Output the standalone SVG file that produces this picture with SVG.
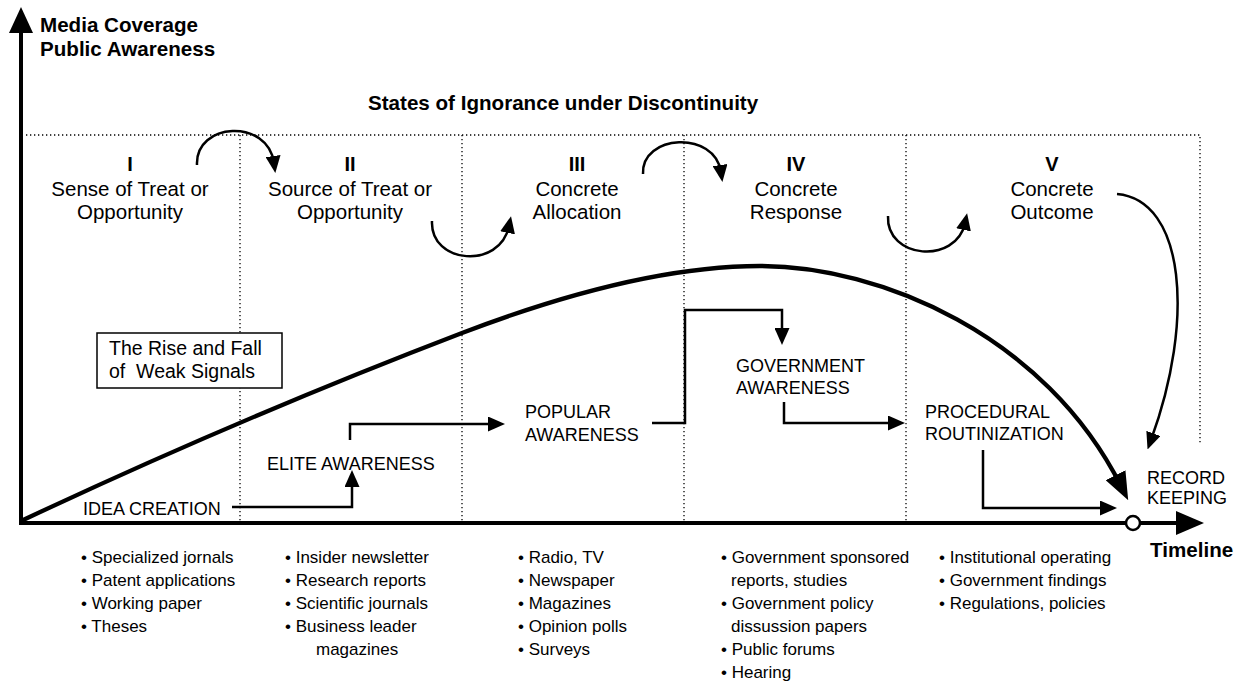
<svg xmlns="http://www.w3.org/2000/svg" width="1240" height="682" viewBox="0 0 1240 682">
<style>
text{font-family:"Liberation Sans",Arial,Helvetica,sans-serif;fill:#000}
.h{font-size:20.6px;font-weight:bold}
.st{font-size:20.5px;text-anchor:middle}
.nm{font-size:20px;font-weight:bold;text-anchor:middle}
.cap{font-size:18px}
.lst{font-size:17px}
.box{font-size:19.5px}
.dot{stroke:#000;stroke-width:1.3;stroke-dasharray:1.3 2.7;fill:none}
.c{stroke:#000;stroke-width:2.5;fill:none}
.ax{stroke:#000;stroke-width:4;fill:none}
</style>
<defs>
<marker id="ah" markerUnits="userSpaceOnUse" viewBox="0 0 17 15" markerWidth="17" markerHeight="15" refX="7" refY="7.5" orient="auto"><path d="M0,0 L17,7.5 L0,15 z" fill="#000"/></marker>
<marker id="big" markerUnits="userSpaceOnUse" viewBox="0 0 28 22" markerWidth="28" markerHeight="22" refX="12" refY="11" orient="auto"><path d="M0,0 L28,11 L0,22 z" fill="#000"/></marker>
</defs>

<g id="grid">
<path class="dot" d="M26,135 H1200 V443"/>
<path class="dot" d="M240,135 V521 M462,135 V521 M684,135 V521 M906,135 V521"/>
</g>

<g id="axes">
<path class="ax" d="M21,523 V30"/>
<path d="M21,7 L9,33 L33,33 z" fill="#000"/>
<path class="ax" d="M19,523 H1178"/>
<path d="M1204,523 L1176,511 L1176,535 z" fill="#000"/>
<circle cx="1133" cy="523" r="7" fill="#fff" stroke="#000" stroke-width="2.5"/>
<text class="h" x="40" y="32">Media Coverage</text>
<text class="h" x="40" y="56">Public Awareness</text>
<text class="h" x="1150" y="557">Timeline</text>
<text class="h" x="368" y="110">States of Ignorance under Discontinuity</text>
</g>

<g id="stage-I">
<text class="nm" x="130" y="171">I</text>
<text class="st" x="130" y="196">Sense of Treat or</text>
<text class="st" x="130" y="219">Opportunity</text>
</g>
<g id="stage-II">
<text class="nm" x="350" y="171">II</text>
<text class="st" x="350" y="196">Source of Treat or</text>
<text class="st" x="350" y="219">Opportunity</text>
</g>
<g id="stage-III">
<text class="nm" x="577" y="171">III</text>
<text class="st" x="577" y="196">Concrete</text>
<text class="st" x="577" y="219">Allocation</text>
</g>
<g id="stage-IV">
<text class="nm" x="796" y="171">IV</text>
<text class="st" x="796" y="196">Concrete</text>
<text class="st" x="796" y="219">Response</text>
</g>
<g id="stage-V">
<text class="nm" x="1052" y="171">V</text>
<text class="st" x="1052" y="196">Concrete</text>
<text class="st" x="1052" y="219">Outcome</text>
</g>

<g id="rise-fall-box">
<rect x="97" y="333" width="185" height="55" fill="#fff" stroke="#000" stroke-width="1.5"/>
<text class="box" x="109" y="355">The Rise and Fall</text>
<text class="box" x="109" y="378" xml:space="preserve">of  Weak Signals</text>
</g>

<g id="idea-creation"><text class="cap" x="83" y="515">IDEA CREATION</text></g>
<g id="elite-awareness"><text class="cap" x="267" y="470">ELITE AWARENESS</text></g>
<g id="popular-awareness"><text class="cap" x="525" y="418">POPULAR</text><text class="cap" x="525" y="441">AWARENESS</text></g>
<g id="government-awareness"><text class="cap" x="736" y="372">GOVERNMENT</text><text class="cap" x="736" y="394">AWARENESS</text></g>
<g id="procedural-routinization"><text class="cap" x="925" y="418">PROCEDURAL</text><text class="cap" x="925" y="440">ROUTINIZATION</text></g>
<g id="record-keeping"><text class="cap" x="1147" y="484">RECORD</text><text class="cap" x="1147" y="504">KEEPING</text></g>

<g id="connectors">
<path d="M21,521 C140,465 300,395 462,333 C580,288 680,266 760,266 C880,266 1045,335 1121,486" stroke="#000" stroke-width="4.3" fill="none" marker-end="url(#big)"/>
<path class="c" d="M197,165 C195,122 268,118 274,163" marker-end="url(#ah)"/>
<path class="c" d="M432,221 C430,264 500,270 509,226" marker-end="url(#ah)"/>
<path class="c" d="M643,174 C641,134 715,130 721,172" marker-end="url(#ah)"/>
<path class="c" d="M888,216 C886,259 956,265 965,223" marker-end="url(#ah)"/>
<path class="c" d="M1117,194 C1185,200 1195,320 1151,440" marker-end="url(#ah)"/>
<path class="c" d="M232,507 H352 V480" marker-end="url(#ah)"/>
<path class="c" d="M350,440 V424 H495" marker-end="url(#ah)"/>
<path class="c" d="M652,423 H685 V310 H782 V335" marker-end="url(#ah)"/>
<path class="c" d="M784,402 V423 H895" marker-end="url(#ah)"/>
<path class="c" d="M983,450 V508 H1107" marker-end="url(#ah)"/>
</g>

<g id="list-1">
<text class="lst" x="81" y="563">• Specialized jornals</text>
<text class="lst" x="81" y="586">• Patent applications</text>
<text class="lst" x="81" y="609">• Working paper</text>
<text class="lst" x="81" y="632">• Theses</text>
</g>
<g id="list-2">
<text class="lst" x="285" y="563">• Insider newsletter</text>
<text class="lst" x="285" y="586">• Research reports</text>
<text class="lst" x="285" y="609">• Scientific journals</text>
<text class="lst" x="285" y="632">• Business leader</text>
<text class="lst" x="316" y="655">magazines</text>
</g>
<g id="list-3">
<text class="lst" x="518" y="563">• Radio, TV</text>
<text class="lst" x="518" y="586">• Newspaper</text>
<text class="lst" x="518" y="609">• Magazines</text>
<text class="lst" x="518" y="632">• Opinion polls</text>
<text class="lst" x="518" y="655">• Surveys</text>
</g>
<g id="list-4">
<text class="lst" x="721" y="563">• Government sponsored</text>
<text class="lst" x="731" y="586">reports, studies</text>
<text class="lst" x="721" y="609">• Government policy</text>
<text class="lst" x="731" y="632">dissussion papers</text>
<text class="lst" x="721" y="655">• Public forums</text>
<text class="lst" x="721" y="678">• Hearing</text>
</g>
<g id="list-5">
<text class="lst" x="939" y="563">• Institutional operating</text>
<text class="lst" x="939" y="586">• Government findings</text>
<text class="lst" x="939" y="609">• Regulations, policies</text>
</g>
</svg>
